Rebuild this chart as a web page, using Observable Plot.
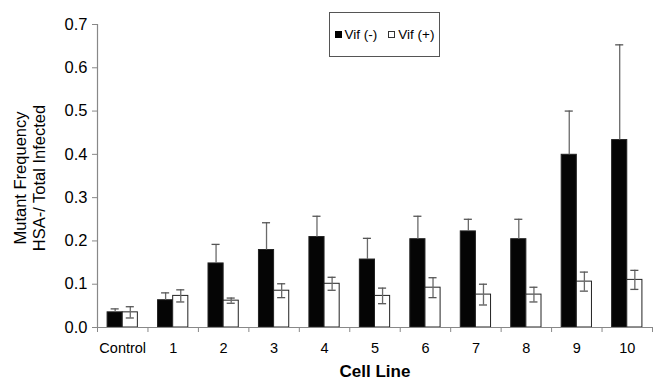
<!DOCTYPE html>
<html>
<head>
<meta charset="utf-8">
<script src="https://cdn.jsdelivr.net/npm/d3@7"></script>
<script src="https://cdn.jsdelivr.net/npm/@observablehq/plot@0.6"></script>
<style>
  body { margin: 0; background: #fff; }
  #wrap { position: relative; width: 653px; height: 385px; font-family: "Liberation Sans", Arial, sans-serif; }
  #legend { position: absolute; left: 329px; top: 12px; width: 111px; height: 45px; box-sizing: border-box;
            border: 1px solid #555; background: #fff; display: flex; align-items: center; justify-content: center;
            font-size: 13.5px; color: #000; gap: 0; }
  .sw { display: inline-block; width: 7px; height: 7px; box-sizing: border-box; margin-right: 3px; vertical-align: middle; }
  .item { display: flex; align-items: center; }
</style>
</head>
<body>
<div id="wrap"><div id="legend">
  <span class="item"><span class="sw" style="background:#000;"></span>Vif (-)</span>
  <span class="item" style="margin-left:11px;"><span class="sw" style="background:#fff;border:1px solid #333;"></span>Vif (+)</span>
</div></div>
<script>
const categories = ["Control", "1", "2", "3", "4", "5", "6", "7", "8", "9", "10"];
const vifMinus    = [0.035, 0.063, 0.148, 0.179, 0.209, 0.157, 0.204, 0.222, 0.204, 0.399, 0.433];
const vifMinusErr = [0.008, 0.017, 0.044, 0.063, 0.048, 0.049, 0.053, 0.028, 0.046, 0.101, 0.220];
const vifPlus     = [0.035, 0.073, 0.062, 0.085, 0.101, 0.073, 0.092, 0.076, 0.076, 0.106, 0.110];
const vifPlusErr  = [0.013, 0.014, 0.006, 0.016, 0.015, 0.018, 0.023, 0.024, 0.017, 0.022, 0.022];
const yTicks = [0, 0.1, 0.2, 0.3, 0.4, 0.5, 0.6, 0.7];

const barW = 0.3; // bar width in category units
const data = [];
categories.forEach((c, i) => {
  data.push({cat: c, i, series: "Vif (-)", x1: i + 0.5 - barW, x2: i + 0.5, value: vifMinus[i], err: vifMinusErr[i]});
  data.push({cat: c, i, series: "Vif (+)", x1: i + 0.5, x2: i + 0.5 + barW, value: vifPlus[i], err: vifPlusErr[i]});
});
const mid = d => (d.x1 + d.x2) / 2;
const cap = 0.08;

const font = "Liberation Sans, Arial, sans-serif";
const chart = Plot.plot({
  width: 653,
  height: 385,
  marginLeft: 97,
  marginRight: 1,
  marginTop: 24,
  marginBottom: 58,
  style: {fontFamily: font, color: "#000", background: "#fff"},
  x: {type: "linear", domain: [0, categories.length]},
  y: {domain: [0, 0.7]},
  marks: [
    Plot.rectY(data, {x1: "x1", x2: "x2", y: "value",
      fill: d => d.series === "Vif (-)" ? "#050505" : "#fff",
      stroke: "#222", strokeWidth: 1}),
    Plot.ruleX(data, {x: mid, y1: d => d.series === "Vif (-)" ? d.value : d.value - d.err, y2: d => d.value + d.err,
      stroke: "#6a6a6a", strokeWidth: 1.3}),
    Plot.ruleY(data, {y: d => d.value + d.err, x1: d => mid(d) - cap, x2: d => mid(d) + cap, stroke: "#555", strokeWidth: 1.3}),
    Plot.ruleY(data.filter(d => d.series === "Vif (+)"), {y: d => d.value - d.err, x1: d => mid(d) - cap, x2: d => mid(d) + cap, stroke: "#555", strokeWidth: 1.3}),
    Plot.ruleX([0], {y1: 0, y2: 0.7, stroke: "#888", strokeWidth: 1.2}),
    Plot.ruleY([0], {stroke: "#888", strokeWidth: 1.2}),
    Plot.axisY({ticks: yTicks, tickFormat: d3.format(".1f"), tickSize: 5, tickPadding: 5, fontSize: 16.5, stroke: "#888", label: null}),
    Plot.axisX({ticks: d3.range(categories.length + 1), tickSize: 5, tickFormat: () => "", stroke: "#888", label: null}),
    Plot.axisX({ticks: d3.range(categories.length).map(i => i + 0.5), tickSize: 0, tickPadding: 15,
      tickFormat: d => categories[Math.floor(d)], fontSize: 14.5, label: null}),
    Plot.text(["Cell Line"], {frameAnchor: "bottom", dy: 49, fontSize: 17, fontWeight: "bold"}),
    Plot.text(["Mutant Frequency\nHSA-/ Total Infected"], {frameAnchor: "left", textAnchor: "middle", dx: -68, dy: 2, rotate: -90,
      fontSize: 16.5, lineHeight: 1.15})
  ]
});
document.getElementById("wrap").prepend(chart);
</script>
</body>
</html>
